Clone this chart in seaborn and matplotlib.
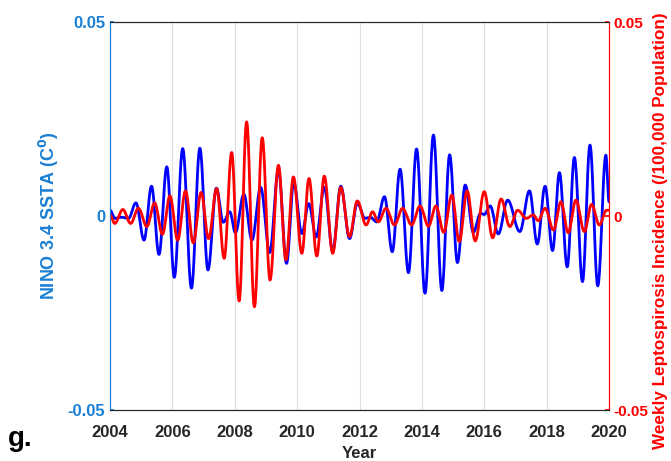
import numpy as np
import pandas as pd
import seaborn as sns
import matplotlib.pyplot as plt

sns.set_theme(style='white')
plt.rcParams['font.family'] = ['Liberation Sans', 'DejaVu Sans']

# turning points (year, value)
nino_year = [2004.00, 2004.16, 2004.37, 2004.59, 2004.83, 2005.09, 2005.33, 2005.57, 2005.82,
             2006.06, 2006.33, 2006.61, 2006.88, 2007.14, 2007.41, 2007.63, 2007.84, 2008.02,
             2008.29, 2008.55, 2008.83, 2009.12, 2009.40, 2009.66, 2009.89, 2010.15, 2010.37,
             2010.61, 2010.87, 2011.14, 2011.40, 2011.68, 2011.93, 2012.18, 2012.34, 2012.55,
             2012.80, 2013.05, 2013.30, 2013.57, 2013.83, 2014.10, 2014.37, 2014.64, 2014.89,
             2015.14, 2015.39, 2015.65, 2015.88, 2016.00, 2016.19, 2016.45, 2016.75, 2017.14,
             2017.45, 2017.70, 2017.95, 2018.19, 2018.41, 2018.66, 2018.89, 2019.15, 2019.39,
             2019.64, 2019.90, 2020.00]
nino_val = [0.0015, -0.0006, -0.0003, -0.0006, 0.0034, -0.0062, 0.0077, -0.0099, 0.0127,
            -0.0158, 0.0174, -0.0186, 0.0175, -0.0139, 0.0072, -0.0016, 0.0011, -0.0043,
            0.0056, -0.0062, 0.0074, -0.0094, 0.0119, -0.0122, 0.0087, -0.0045, 0.0032,
            -0.0054, 0.0074, -0.0090, 0.0077, -0.0058, 0.0033, -0.0006, -0.0003, -0.0015,
            0.0050, -0.0092, 0.0121, -0.0146, 0.0173, -0.0199, 0.0209, -0.0192, 0.0158,
            -0.0120, 0.0080, -0.0042, 0.0007, 0.0004, 0.0026, -0.0046, 0.0041, -0.0040,
            0.0065, -0.0072, 0.0077, -0.0089, 0.0112, -0.0131, 0.0151, -0.0169, 0.0183,
            -0.0180, 0.0157, 0.0037]

lepto_year = [2004.00, 2004.15, 2004.41, 2004.66, 2004.91, 2005.18, 2005.43, 2005.68, 2005.92,
              2006.17, 2006.42, 2006.67, 2006.92, 2007.16, 2007.42, 2007.66, 2007.90, 2008.14,
              2008.38, 2008.63, 2008.88, 2009.13, 2009.40, 2009.64, 2009.88, 2010.15, 2010.38,
              2010.63, 2010.87, 2011.14, 2011.40, 2011.68, 2011.93, 2012.21, 2012.42, 2012.60,
              2012.85, 2013.12, 2013.38, 2013.67, 2013.94, 2014.21, 2014.45, 2014.70, 2014.96,
              2015.20, 2015.45, 2015.71, 2016.00, 2016.27, 2016.54, 2016.82, 2017.07, 2017.35,
              2017.57, 2017.73, 2017.95, 2018.22, 2018.46, 2018.69, 2018.94, 2019.21, 2019.44,
              2019.69, 2019.92, 2020.00]
lepto_val = [0.0003, -0.0019, 0.0017, -0.0019, 0.0020, -0.0027, 0.0034, -0.0047, 0.0052,
             -0.0062, 0.0065, -0.0069, 0.0061, -0.0058, 0.0071, -0.0109, 0.0164, -0.0219,
             0.0243, -0.0234, 0.0202, -0.0165, 0.0131, -0.0113, 0.0101, -0.0096, 0.0097,
             -0.0103, 0.0103, -0.0096, 0.0074, -0.0053, 0.0039, -0.0023, 0.0011, -0.0015,
             0.0020, -0.0023, 0.0020, -0.0023, 0.0026, -0.0026, 0.0026, -0.0042, 0.0054,
             -0.0066, 0.0065, -0.0064, 0.0063, -0.0056, 0.0044, -0.0027, 0.0015, -0.0006,
             0.0003, -0.0012, 0.0020, -0.0036, 0.0037, -0.0043, 0.0041, -0.0040, 0.0030,
             -0.0023, 0.0015, 0.0015]

year_ticks = [2004, 2006, 2008, 2010, 2012, 2014, 2016, 2018, 2020]
y_ticks = [-0.05, 0, 0.05]
y_ticklabels = ['-0.05', '0', '0.05']


def smooth(years, vals, n=24):
    # draw each half-cycle between turning points as a half cosine
    xs, ys = [], []
    for i in range(len(years) - 1):
        t = np.linspace(0, 1, n, endpoint=False)
        w = (1 - np.cos(np.pi * t)) / 2
        xs.extend(years[i] + (years[i + 1] - years[i]) * t)
        ys.extend(vals[i] + (vals[i + 1] - vals[i]) * w)
    xs.append(years[-1])
    ys.append(vals[-1])
    return pd.DataFrame({'Year': xs, 'val': ys})


nino = smooth(nino_year, nino_val)
lepto = smooth(lepto_year, lepto_val)

blue_ax = '#1a7fd4'
red_ax = '#ff0000'
dark = '#262626'

f = plt.figure(figsize=(6.71, 4.61), dpi=100)
ax1 = f.add_axes([0.164, 0.1106, 0.7436, 0.8414])
ax2 = ax1.twinx()

sns.lineplot(data=nino, x='Year', y='val', color='#0000ff', lw=2, ax=ax1)
sns.lineplot(data=lepto, x='Year', y='val', color='#ff0000', lw=2, ax=ax2)

for ax in (ax1, ax2):
    ax.set(xlim=(2004, 2020), ylim=(-0.05, 0.05))
    ax.set_yticks(y_ticks)
    ax.set_yticklabels(y_ticklabels)
    ax.set(xlabel=None, ylabel=None)

ax1.set_xticks(year_ticks)
ax1.set_xticklabels([str(y) for y in year_ticks], fontweight='bold', color=dark, fontsize=12)
ax1.grid(True, color='#dedede', lw=0.8)
ax1.set_axisbelow(True)

ax1.tick_params(axis='y', colors=blue_ax, labelsize=12, direction='in', length=3)
ax1.tick_params(axis='x', colors=dark, labelcolor=dark, direction='in', length=3, pad=11)
ax2.tick_params(axis='y', colors=red_ax, labelsize=11, direction='in', length=3)
for lab in ax1.get_yticklabels():
    lab.set_fontweight('bold')
for lab in ax2.get_yticklabels():
    lab.set_fontweight('bold')

for ax in (ax1, ax2):
    ax.spines['left'].set_color(blue_ax)
    ax.spines['right'].set_color(red_ax)
    ax.spines['top'].set_color(dark)
    ax.spines['bottom'].set_color(dark)
    for s in ax.spines.values():
        s.set_linewidth(0.8)

ax1.set_ylabel('NINO 3.4 SSTA (C$^\\mathbf{0}$)', color=blue_ax, fontsize=13,
               fontweight='bold', labelpad=5)
ax1.set_xlabel('Year', color=dark, fontsize=12, fontweight='bold', labelpad=4)

# right label sits a bit below the axes centre in the original
f.text(0.985, 0.499, 'Weekly Leptospirosis Incidence (/100,000 Population)', color=red_ax,
       fontsize=12.3, fontweight='bold', rotation=90, ha='center', va='center')

f.text(0.012, 0.032, 'g.', fontsize=20, fontweight='bold', color='black')

f.savefig('out.png', dpi=100)
